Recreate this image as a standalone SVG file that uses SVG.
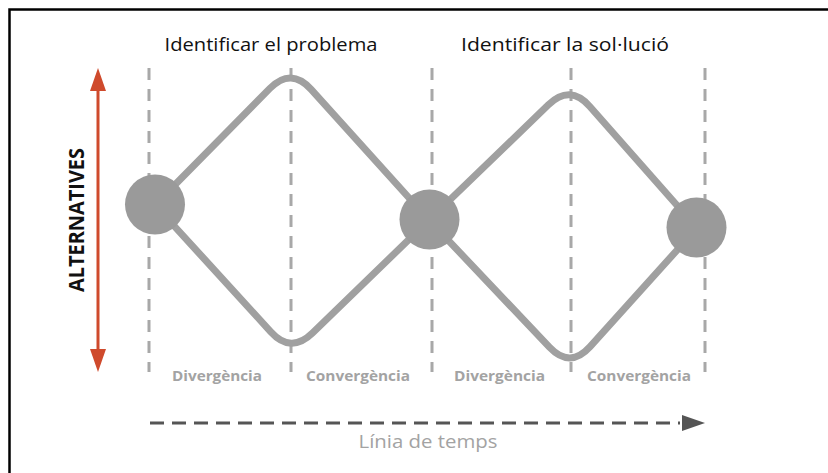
<svg xmlns="http://www.w3.org/2000/svg" width="828" height="473" viewBox="0 0 828 473">
<style>
.guide{stroke:#a8a8a8;stroke-width:3;stroke-dasharray:12 9;fill:none}
.flow{stroke:#a0a0a0;stroke-width:7;fill:none;stroke-linejoin:round}
.node{fill:#9a9a9a}
.title{font-family:"Open Sans","Liberation Sans",sans-serif;font-size:19px;fill:#111}
.phase{font-family:"Open Sans","Liberation Sans",sans-serif;font-size:15px;font-weight:bold;fill:#a3a3a3}
</style>
<rect x="0" y="0" width="828" height="473" fill="#fff"/>
<rect x="9.5" y="9.5" width="840" height="490" fill="none" stroke="#000" stroke-width="2.5"/>
<g id="titles">
<text class="title" x="271" y="51" text-anchor="middle" textLength="213" lengthAdjust="spacingAndGlyphs">Identificar el problema</text>
<text class="title" x="565" y="51" text-anchor="middle" textLength="208" lengthAdjust="spacingAndGlyphs">Identificar la sol·lució</text>
</g>
<g id="guides">
<line class="guide" x1="149" y1="68" x2="149" y2="372"/>
<line class="guide" x1="291" y1="68" x2="291" y2="372"/>
<line class="guide" x1="432" y1="68" x2="432" y2="372"/>
<line class="guide" x1="571" y1="68" x2="571" y2="372"/>
<line class="guide" x1="705" y1="68" x2="705" y2="372"/>
</g>
<g id="connectors">
<path class="flow" d="M155,205 L269.9,88.4 Q291,67 311.1,89.3 L429,220 L549.4,347.2 Q570,369 590.1,346.7 L697,228"/>
<path class="flow" d="M155,205 L270.8,331.8 Q291,354 312.5,333.1 L429,220 L548.4,104.8 Q570,84 589.8,106.5 L697,228"/>
</g>
<g id="node1"><circle class="node" cx="155" cy="204.5" r="30"/></g>
<g id="node2"><circle class="node" cx="429.5" cy="219.5" r="30"/></g>
<g id="node3"><circle class="node" cx="696.5" cy="227.5" r="30"/></g>
<g id="axis-alternatives">
<line x1="98" y1="86" x2="98" y2="354" stroke="#cf4a2c" stroke-width="3"/>
<path d="M98,68 L106,91 L90,91 Z" fill="#cf4a2c"/>
<path d="M98,372 L106,349 L90,349 Z" fill="#cf4a2c"/>
<text x="0" y="0" transform="translate(84,220) rotate(-90)" text-anchor="middle" font-family="'Open Sans','Liberation Sans',sans-serif" font-size="21" font-weight="bold" fill="#111" textLength="144" lengthAdjust="spacingAndGlyphs">ALTERNATIVES</text>
</g>
<g id="phases">
<text class="phase" x="217" y="381" text-anchor="middle" textLength="90" lengthAdjust="spacingAndGlyphs">Divergència</text>
<text class="phase" x="358" y="381" text-anchor="middle" textLength="104" lengthAdjust="spacingAndGlyphs">Convergència</text>
<text class="phase" x="499.5" y="381" text-anchor="middle" textLength="91" lengthAdjust="spacingAndGlyphs">Divergència</text>
<text class="phase" x="639" y="381" text-anchor="middle" textLength="104" lengthAdjust="spacingAndGlyphs">Convergència</text>
</g>
<g id="timeline">
<line x1="150" y1="423" x2="680" y2="423" stroke="#555" stroke-width="3" stroke-dasharray="14 8"/>
<path d="M682,415 L705,423 L682,431 Z" fill="#555"/>
<text x="428" y="448" text-anchor="middle" font-family="'Open Sans','Liberation Sans',sans-serif" font-size="18" fill="#a3a3a3" textLength="139" lengthAdjust="spacingAndGlyphs">Línia de temps</text>
</g>
</svg>
